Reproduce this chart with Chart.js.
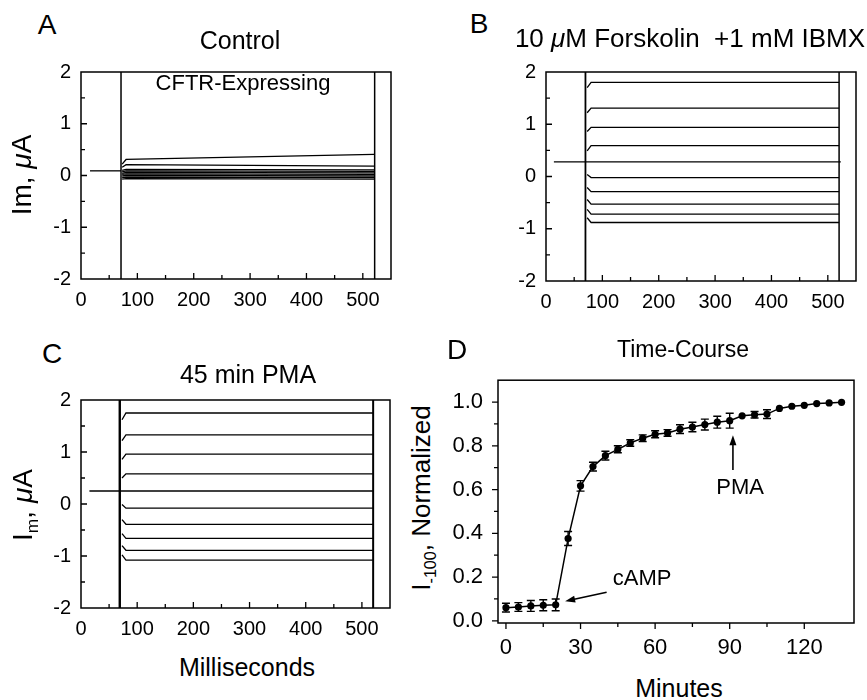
<!DOCTYPE html>
<html>
<head>
<meta charset="utf-8">
<script src="https://cdn.jsdelivr.net/npm/chart.js@4.4.1/dist/chart.umd.min.js"></script>
<style>
  html, body { margin: 0; padding: 0; background: #fff; }
  #fig { position: relative; width: 867px; height: 700px; overflow: hidden;
         font-family: "Liberation Sans", Arial, Helvetica, sans-serif; color: #000; }
  #fig canvas { position: absolute; }
  .t { position: absolute; white-space: nowrap; line-height: 1; transform: translate(-50%, -50%); }
  .rot { transform: translate(-50%, -50%) rotate(-90deg); }
  .t sub { font-size: 0.62em; vertical-align: -0.35em; line-height: 0; }
</style>
</head>
<body>
<div id="fig">
  <canvas id="cA" width="372" height="270" style="left:30px;top:50px"></canvas>
  <canvas id="cB" width="370" height="270" style="left:494px;top:50px"></canvas>
  <canvas id="cC" width="372" height="270" style="left:30px;top:378px"></canvas>
  <canvas id="cD" width="424" height="305" style="left:440px;top:352px"></canvas>

  <div class="t" style="left:47px;top:25px;font-size:28px">A</div>
  <div class="t" style="left:479px;top:24px;font-size:28px">B</div>
  <div class="t" style="left:52px;top:354px;font-size:28px">C</div>
  <div class="t" style="left:457px;top:350px;font-size:28px">D</div>

  <div class="t" style="left:240px;top:40px;font-size:25px">Control</div>
  <div class="t" style="left:243px;top:83px;font-size:22px">CFTR-Expressing</div>
  <div class="t" style="left:690px;top:38px;font-size:26px">10 <i>μ</i>M Forskolin&nbsp; +1 mM IBMX</div>
  <div class="t" style="left:248px;top:374px;font-size:25px">45 min PMA</div>
  <div class="t" style="left:683px;top:349px;font-size:23px">Time-Course</div>

  <div class="t rot" style="left:22px;top:175px;font-size:28px">Im, <i>μ</i>A</div>
  <div class="t rot" style="left:23px;top:505px;font-size:28px">I<sub>m</sub>, <i>μ</i>A</div>
  <div class="t rot" style="left:421px;top:498px;font-size:26px">I<sub>-100</sub>, Normalized</div>

  <div class="t" style="left:247px;top:667px;font-size:25px">Milliseconds</div>
  <div class="t" style="left:679px;top:688px;font-size:25px">Minutes</div>
</div>

<script>
// ---- data ----
const msTicks = [0, 100, 200, 300, 400, 500];
const imTicks = [-2, -1, 0, 1, 2];
const traceT = [73, 80, 520];           // ms: onset, settled, end of test pulse

// A: control oocyte
const ctrlHoldX = [16, 71];
const ctrlHold = 0.09;
const ctrlOnset = [0.22, 0.16, 0.10, 0.07, 0.04, 0.02, -0.01, -0.04, -0.07];
const ctrlStart = [0.31, 0.21, 0.12, 0.09, 0.06, 0.03, 0.00, -0.03, -0.06];
const ctrlEnd   = [0.41, 0.18, 0.11, 0.08, 0.05, 0.02, -0.01, -0.04, -0.07];
const ctrlEdges = [71, 521];

// B: forskolin + IBMX
const fskHoldX = [14, 523];
const fskHold = 0.28;
const fskOnset = [1.70, 1.22, 0.86, 0.49, 0.04, -0.21, -0.44, -0.63, -0.79];
const fskLevel = [1.80, 1.31, 0.94, 0.59, -0.02, -0.29, -0.53, -0.72, -0.88];
const fskEdges = [70, 520];

// C: 45 min PMA
const pmaHoldX = [15, 521];
const pmaHold = 0.25;
const pmaOnset = [1.62, 1.22, 0.86, 0.50, -0.01, -0.30, -0.57, -0.80, -0.98];
const pmaLevel = [1.75, 1.33, 0.96, 0.58, -0.08, -0.39, -0.66, -0.89, -1.08];
const pmaEdges = [69, 520];

// D: time course
const minTicks = [0, 30, 60, 90, 120];
const normTicks = [0, 0.2, 0.4, 0.6, 0.8, 1.0];
const minutes = [0, 5, 10, 15, 20, 25, 30, 35, 40, 45, 50, 55, 60, 65, 70,
                 75, 80, 85, 90, 95, 100, 105, 110, 115, 120, 125, 130, 135];
const iNorm = [0.060, 0.063, 0.068, 0.071, 0.073, 0.376, 0.617, 0.705, 0.755, 0.784,
               0.813, 0.835, 0.853, 0.859, 0.876, 0.886, 0.897, 0.908, 0.915, 0.937,
               0.942, 0.945, 0.971, 0.981, 0.985, 0.993, 0.996, 0.999];
const iErr = [0.020, 0.020, 0.025, 0.025, 0.027, 0.032, 0.024, 0.020, 0.020, 0.016,
              0.015, 0.015, 0.016, 0.015, 0.020, 0.022, 0.025, 0.027, 0.034, 0,
              0.015, 0.020, 0, 0, 0, 0, 0, 0];
const dNotes = [{ text: 'PMA', x: 94.2, y: 0.616 }, { text: 'cAMP', x: 54.8, y: 0.199 }];
const dArrows = [[91.3, 0.69, 91.3, 0.848], [40.5, 0.131, 23.8, 0.089]];

const FONT = '"Liberation Sans", Arial, Helvetica, sans-serif';
Chart.defaults.font.family = FONT;
Chart.defaults.color = '#000';
Chart.defaults.animation = false;
Chart.defaults.plugins.legend.display = false;
Chart.defaults.plugins.tooltip.enabled = false;

const mids = a => a.slice(1).map((v, i) => (v + a[i]) / 2);

// box frame + tick marks (inward or outward)
const frameTicks = {
  id: 'frameTicks',
  afterDraw(chart, args, o) {
    const { ctx, chartArea: a, scales: { x, y } } = chart;
    const d = o.out ? -1 : 1;
    ctx.save();
    ctx.strokeStyle = '#000';
    ctx.lineWidth = 1.5;
    ctx.strokeRect(a.left, a.top, a.right - a.left, a.bottom - a.top);
    ctx.lineWidth = 1.3;
    ctx.beginPath();
    const xt = (vals, len) => vals.forEach(v => {
      const p = x.getPixelForValue(v);
      if (p < a.left + 2 || p > a.right - 2) return;
      ctx.moveTo(p, a.bottom); ctx.lineTo(p, a.bottom - d * len);
    });
    const yt = (vals, len) => vals.forEach(v => {
      const p = y.getPixelForValue(v);
      if (!o.out && (p < a.top + 2 || p > a.bottom - 2)) return;
      ctx.moveTo(a.left, p); ctx.lineTo(a.left + d * len, p);
    });
    xt(o.xMajor, 6); xt(o.xMinor, 4);
    yt(o.yMajor, 6); yt(o.yMinor, 4);
    ctx.stroke();
    ctx.restore();
  }
};

const errorBars = {
  id: 'errorBars',
  afterDatasetsDraw(chart) {
    const { ctx, scales: { x, y } } = chart;
    ctx.save();
    ctx.strokeStyle = '#000';
    ctx.lineWidth = 1.4;
    ctx.beginPath();
    minutes.forEach((m, i) => {
      if (!iErr[i]) return;
      const px = x.getPixelForValue(m);
      const lo = y.getPixelForValue(iNorm[i] - iErr[i]);
      const hi = y.getPixelForValue(iNorm[i] + iErr[i]);
      ctx.moveTo(px, lo); ctx.lineTo(px, hi);
      ctx.moveTo(px - 4, lo); ctx.lineTo(px + 4, lo);
      ctx.moveTo(px - 4, hi); ctx.lineTo(px + 4, hi);
    });
    ctx.stroke();
    ctx.restore();
  }
};

const notes = {
  id: 'notes',
  afterDatasetsDraw(chart) {
    const { ctx, scales: { x, y } } = chart;
    ctx.save();
    ctx.strokeStyle = ctx.fillStyle = '#000';
    ctx.lineWidth = 1.6;
    dArrows.forEach(([x0, y0, x1, y1]) => {
      const ax = x.getPixelForValue(x0), ay = y.getPixelForValue(y0);
      const bx = x.getPixelForValue(x1), by = y.getPixelForValue(y1);
      const ang = Math.atan2(by - ay, bx - ax);
      ctx.beginPath();
      ctx.moveTo(ax, ay);
      ctx.lineTo(bx - 7 * Math.cos(ang), by - 7 * Math.sin(ang));
      ctx.stroke();
      ctx.beginPath();
      ctx.moveTo(bx, by);
      ctx.lineTo(bx - 10 * Math.cos(ang) + 3.5 * Math.sin(ang), by - 10 * Math.sin(ang) - 3.5 * Math.cos(ang));
      ctx.lineTo(bx - 10 * Math.cos(ang) - 3.5 * Math.sin(ang), by - 10 * Math.sin(ang) + 3.5 * Math.cos(ang));
      ctx.closePath();
      ctx.fill();
    });
    ctx.font = '22px ' + FONT;
    ctx.textAlign = 'center';
    ctx.textBaseline = 'alphabetic';
    dNotes.forEach(n => ctx.fillText(n.text, x.getPixelForValue(n.x), y.getPixelForValue(n.y) + 0.358 * 22));
    ctx.restore();
  }
};

const line = (pts, w) => ({
  data: pts, showLine: true, borderColor: '#000', borderWidth: w || 1.3,
  pointRadius: 0, fill: false
});

function traceChart(id, o) {
  const sets = [line([{ x: o.holdX[0], y: o.hold }, { x: o.holdX[1], y: o.hold }])];
  o.onset.forEach((v, i) => sets.push(line([
    { x: traceT[0], y: v }, { x: traceT[1], y: o.start[i] }, { x: traceT[2], y: o.end[i] }
  ])));
  o.edges.forEach((t, i) => sets.push(line([{ x: t, y: -2 }, { x: t, y: 2 }], o.edgeW[i])));
  return new Chart(document.getElementById(id), {
    type: 'scatter',
    data: { datasets: sets },
    options: {
      responsive: false,
      layout: { padding: { top: o.pad[0], right: o.pad[1], bottom: 0, left: 0 } },
      scales: {
        x: {
          type: 'linear', min: 0, max: 550,
          grid: { display: false, drawTicks: false }, border: { display: false },
          ticks: { font: { size: 20 }, padding: 9, maxRotation: 0, autoSkip: false },
          afterBuildTicks: s => { s.ticks = msTicks.map(v => ({ value: v })); },
          afterFit: s => { s.height = o.xh; }
        },
        y: {
          type: 'linear', min: -2, max: 2,
          grid: { display: false, drawTicks: false }, border: { display: false },
          ticks: { font: { size: 20 }, padding: 10, autoSkip: false },
          afterBuildTicks: s => { s.ticks = imTicks.map(v => ({ value: v })); },
          afterFit: s => { s.width = o.yw; }
        }
      },
      plugins: {
        frameTicks: { xMajor: msTicks, xMinor: mids(msTicks), yMajor: imTicks, yMinor: mids(imTicks) }
      }
    },
    plugins: [frameTicks]
  });
}

traceChart('cA', { holdX: ctrlHoldX, hold: ctrlHold, onset: ctrlOnset, start: ctrlStart, end: ctrlEnd,
                   edges: ctrlEdges, edgeW: [1.5, 1.5], pad: [16, 11], yw: 51, xh: 41 });
traceChart('cB', { holdX: fskHoldX, hold: fskHold, onset: fskOnset, start: fskLevel, end: fskLevel,
                   edges: fskEdges, edgeW: [1.8, 1.5], pad: [17, 8], yw: 52, xh: 39 });
traceChart('cC', { holdX: pmaHoldX, hold: pmaHold, onset: pmaOnset, start: pmaLevel, end: pmaLevel,
                   edges: pmaEdges, edgeW: [2.4, 2], pad: [17, 12], yw: 51, xh: 40 });

new Chart(document.getElementById('cD'), {
  type: 'scatter',
  data: {
    datasets: [{
      data: minutes.map((m, i) => ({ x: m, y: iNorm[i] })),
      showLine: true, borderColor: '#000', borderWidth: 1.5,
      pointRadius: 3.6, pointBackgroundColor: '#000', pointBorderWidth: 0
    }]
  },
  options: {
    responsive: false,
    layout: { padding: { top: 17, right: 10, bottom: 0, left: 0 } },
    scales: {
      x: {
        type: 'linear', min: -3.2, max: 140,
        grid: { display: false, drawTicks: false }, border: { display: false },
        ticks: { font: { size: 22 }, padding: 12, maxRotation: 0, autoSkip: false },
        afterBuildTicks: s => { s.ticks = minTicks.map(v => ({ value: v })); },
        afterFit: s => { s.height = 34; }
      },
      y: {
        type: 'linear', min: -0.01, max: 1.1,
        grid: { display: false, drawTicks: false }, border: { display: false },
        ticks: { font: { size: 22 }, padding: 15, autoSkip: false, callback: v => v.toFixed(1) },
        afterBuildTicks: s => { s.ticks = normTicks.map(v => ({ value: v })); },
        afterFit: s => { s.width = 58; }
      }
    },
    plugins: {
      frameTicks: { out: true, xMajor: minTicks, xMinor: mids(minTicks), yMajor: normTicks, yMinor: mids(normTicks) }
    }
  },
  plugins: [frameTicks, errorBars, notes]
});
</script>
</body>
</html>
